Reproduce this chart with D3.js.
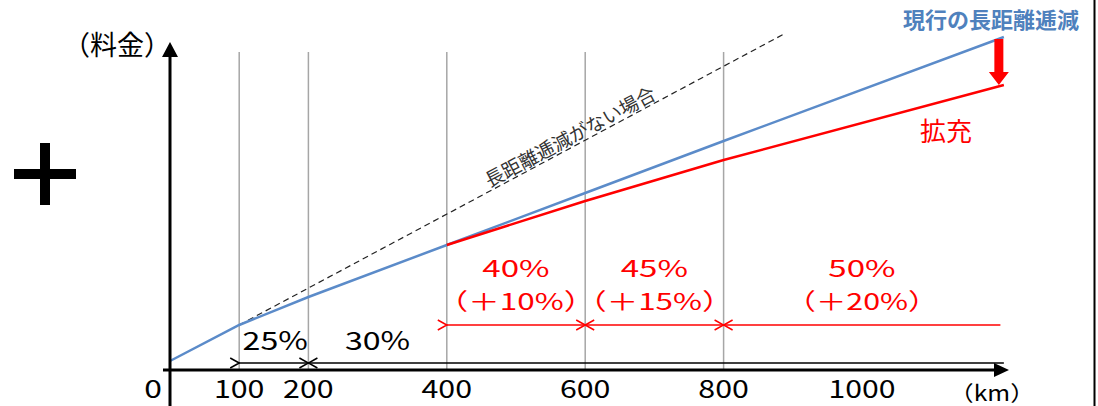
<!DOCTYPE html>
<html><head><meta charset="utf-8">
<script src="https://cdn.jsdelivr.net/npm/d3@7"></script>
<style>
html,body{margin:0;padding:0;background:#fff;}
svg{display:block;font-family:"Noto Sans CJK JP","Noto Sans",sans-serif;}
</style></head>
<body>
<svg id="c" width="1098" height="406"></svg>
<script>
// ---- data ----
const distances = [0, 100, 200, 400, 600, 800, 1205];          // km
const currentFare = [9, 45, 73, 125, 177, 229, 333];           // 現行の長距離逓減
const expandedDist = [400, 600, 800, 1205];
const expandedFare = [125, 169, 210, 285];                      // 拡充
const noDiscountDist = [100, 890];
const noDiscountFare = [45, 337];                               // 長距離逓減がない場合
const gridKm = [100, 200, 400, 600, 800];
const tickValues = [0, 100, 200, 400, 600, 800, 1000];
const tickLabels = ["0", "100", "200", "400", "600", "800", "1000"];
const currentRanges = [[100, 200], [200, 1205]];
const currentRateLabels = ["25%", "30%"];
const currentLabelCenters = [152, 300];
const expandedRanges = [[400, 600], [600, 800], [800, 1200]];
const expandedRateLabels = ["40%", "45%", "50%"];
const expandedAddLabels = ["（＋10%）", "（＋15%）", "（＋20%）"];
const expandedLabelCenters = [500, 700, 1000];

// ---- scales ----
const svg = d3.select("#c");
const x = d3.scaleLinear().domain([0, 1000]).range([170, 862]);
const y = d3.scaleLinear().domain([0, 340]).range([370, 30]);
const red = "#ff0000", blue = "#5b8bc9";

// markers
const defs = svg.append("defs");
function chevron(id, color) {
  defs.append("marker").attr("id", id).attr("viewBox", "-1 -6 12 12")
    .attr("refX", 0).attr("refY", 0).attr("markerWidth", 12).attr("markerHeight", 12)
    .attr("markerUnits", "userSpaceOnUse").attr("orient", "auto-start-reverse")
    .append("path").attr("d", "M9,-5 L0,0 L9,5").attr("fill", "none")
    .attr("stroke", color).attr("stroke-width", 1.5);
}
chevron("chk", "#000"); chevron("chr", red);

// horizontally stretched text so its ink spans inkW (wide gothic look of the original)
function wideText(g, cx, ty, str, size, inkW, color, padEm) {
  const t = g.append("text").attr("y", ty).attr("font-size", size).attr("fill", color).text(str);
  const L = t.node().getComputedTextLength();
  const pad = (padEm == null ? 0.1 : padEm) * size;
  const s = inkW / Math.max(1, L - pad);
  const W = L * s;
  t.attr("x", cx - W / 2).attr("textLength", W).attr("lengthAdjust", "spacingAndGlyphs");
  return t;
}

// grid lines
svg.append("g").selectAll("line").data(gridKm).join("line")
  .attr("x1", d => x(d)).attr("x2", d => x(d)).attr("y1", 52).attr("y2", 370)
  .attr("stroke", "#a6a6a6").attr("stroke-width", 1.5);

// dashed no-discount line
const line = d3.line().x(d => x(d[0])).y(d => y(d[1]));
svg.append("path").datum(noDiscountDist.map((d, i) => [d, noDiscountFare[i]]))
  .attr("d", line).attr("fill", "none").attr("stroke", "#222")
  .attr("stroke-width", 1.2).attr("stroke-dasharray", "6,4");

// label along dashed line
{
  const p0 = [x(noDiscountDist[0]), y(noDiscountFare[0])];
  const p1 = [x(noDiscountDist[1]), y(noDiscountFare[1])];
  const ang = Math.atan2(p1[1] - p0[1], p1[0] - p0[0]) * 180 / Math.PI;
  const km = 585;
  const fy = noDiscountFare[0] + (noDiscountFare[1] - noDiscountFare[0]) * (km - noDiscountDist[0]) / (noDiscountDist[1] - noDiscountDist[0]);
  svg.append("text").attr("transform", `translate(${x(km)},${y(fy)}) rotate(${ang})`)
    .attr("text-anchor", "middle").attr("dy", -3)
    .attr("font-size", 19).attr("fill", "#333").text("長距離逓減がない場合");
}

// fare lines
svg.append("path").datum(distances.map((d, i) => [d, currentFare[i]]))
  .attr("d", line).attr("fill", "none").attr("stroke", blue).attr("stroke-width", 2.5);
svg.append("path").datum(expandedDist.map((d, i) => [d, expandedFare[i]]))
  .attr("d", line).attr("fill", "none").attr("stroke", red).attr("stroke-width", 2.5);

// black range arrows (current)
const gB = svg.append("g");
currentRanges.forEach((r, i) => {
  gB.append("line").attr("x1", x(r[0])).attr("x2", x(r[1])).attr("y1", 363).attr("y2", 363)
    .attr("stroke", "#000").attr("stroke-width", 1.5)
    .attr("marker-start", "url(#chk)").attr("marker-end", i === 0 ? "url(#chk)" : null);
  wideText(gB, x(currentLabelCenters[i]), 350, currentRateLabels[i], 25, 62, "#000");
});

// red range arrows (expanded)
const gR = svg.append("g");
const addW = [119, 119, 115];
expandedRanges.forEach((r, i) => {
  gR.append("line").attr("x1", x(r[0])).attr("x2", x(r[1])).attr("y1", 325).attr("y2", 325)
    .attr("stroke", red).attr("stroke-width", 1.5)
    .attr("marker-start", "url(#chr)").attr("marker-end", i < 2 ? "url(#chr)" : null);
  wideText(gR, x(expandedLabelCenters[i]), 277, expandedRateLabels[i], 23, 64, red);
  wideText(gR, x(expandedLabelCenters[i]), 310, expandedAddLabels[i], 23, addW[i], red, 1.25);
});

// axes
svg.append("line").attr("x1", 163).attr("x2", 998).attr("y1", 370).attr("y2", 370)
  .attr("stroke", "#000").attr("stroke-width", 3);
svg.append("path").attr("d", "M994,363 L1009,370 L994,377 Z").attr("fill", "#000");
svg.append("line").attr("x1", 170).attr("x2", 170).attr("y1", 406).attr("y2", 54)
  .attr("stroke", "#000").attr("stroke-width", 3);
svg.append("path").attr("d", "M162,57 L170,42 L178,57 Z").attr("fill", "#000");

// tick labels
const gT = svg.append("g");
tickValues.forEach((d, i) => {
  const w = tickLabels[i].length * 16.5 - 2;
  wideText(gT, d === 0 ? x(d) - 17 : x(d), 398, tickLabels[i], 25, w, "#000");
});
wideText(svg, 992, 401, "（km）", 21, 55, "#000", 1.25);
svg.append("text").attr("x", 117).attr("y", 55).attr("text-anchor", "middle")
  .attr("font-size", 27).attr("fill", "#000").text("（料金）");

// title labels
svg.append("text").attr("x", 991).attr("y", 28).attr("font-size", 22)
  .attr("font-weight", "bold").attr("fill", "#4f81bd").attr("text-anchor", "middle")
  .text("現行の長距離逓減");
svg.append("text").attr("x", 946).attr("y", 141).attr("text-anchor", "middle")
  .attr("font-size", 26).attr("fill", red).text("拡充");

// red down arrow between end points
{
  const ex = x(distances[distances.length - 1]) - 5;
  const y0 = y(currentFare[currentFare.length - 1]) + 2;
  const y1 = y(expandedFare[expandedFare.length - 1]);
  svg.append("path")
    .attr("d", `M${ex - 4.5},${y0} L${ex + 4.5},${y0} L${ex + 4.5},${y1 - 13} L${ex + 10},${y1 - 13} L${ex},${y1} L${ex - 10},${y1 - 13} L${ex - 4.5},${y1 - 13} Z`)
    .attr("fill", red);
}

// plus sign
svg.append("rect").attr("x", 40).attr("y", 143).attr("width", 10).attr("height", 62).attr("fill", "#000");
svg.append("rect").attr("x", 14).attr("y", 169).attr("width", 62).attr("height", 10).attr("fill", "#000");

// right border
svg.append("line").attr("x1", 1094.5).attr("x2", 1094.5).attr("y1", 0).attr("y2", 406)
  .attr("stroke", "#000").attr("stroke-width", 2);
</script>
</body></html>
